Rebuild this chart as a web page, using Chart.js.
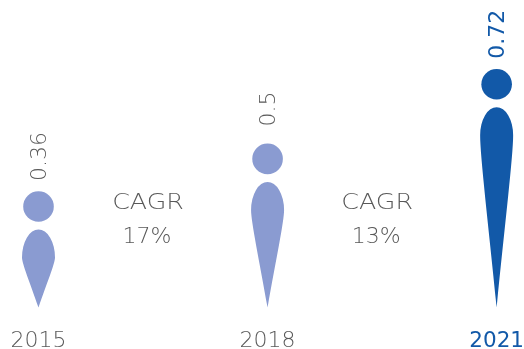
<!DOCTYPE html>
<html><head><meta charset="utf-8">
<style>html,body{margin:0;padding:0;background:#fff}#w{width:524px;height:349px;position:relative}</style>
<script src="https://cdn.jsdelivr.net/npm/chart.js@4"></script></head>
<body><div id="w"><canvas id="c"></canvas></div>
<script>
const years = ['2015','2018','2021'];
const values = [0.36,0.5,0.72];
const valueLabels = ['0.36','0.5','0.72'];
const cagrLabels = ['17%','13%'];
const colors = ['#8A9BD1','#8A9BD1','#1259A8'];
const textGrey = '#595959';
const FONT = '"DejaVu Sans"';

const figures = {
  id:'figures',
  beforeDatasetDraw(){ return false; },
  afterDatasetsDraw(chart){
    const ctx = chart.ctx, xs = chart.scales.x, tip = chart.scales.y.bottom;
    chart.getDatasetMeta(0).data.forEach((bar,i)=>{
      const x = bar.x, top = bar.y, hw = 16.5, dome = 28;
      const wide = top+dome, L = tip-wide;
      ctx.save();
      ctx.fillStyle = colors[i];
      ctx.beginPath();
      ctx.moveTo(x,tip);
      ctx.bezierCurveTo(x+hw*0.52,tip-L*0.5, x+hw,wide+L*0.12, x+hw,wide);
      ctx.ellipse(x,wide,hw,dome,0,0,Math.PI,true);
      ctx.bezierCurveTo(x-hw,wide+L*0.12, x-hw*0.52,tip-L*0.5, x,tip);
      ctx.closePath(); ctx.fill();
      ctx.beginPath(); ctx.arc(x,top-23,15.3,0,Math.PI*2); ctx.fill();
      ctx.translate(x+1.5,top-73);
      ctx.rotate(-Math.PI/2);
      ctx.fillStyle = i===2?colors[2]:textGrey;
      ctx.font = (i===2?'400':'200')+' 22px '+FONT;
      ctx.textAlign='center'; ctx.textBaseline='middle';
      ctx.fillText(valueLabels[i],0,0);
      ctx.restore();
    });
    ctx.save();
    ctx.fillStyle=textGrey; ctx.font='200 22px '+FONT;
    ctx.textAlign='center'; ctx.textBaseline='middle';
    cagrLabels.forEach((t,i)=>{
      const x = xs.getPixelForValue(i+0.5)-5;
      ctx.save();
      ctx.translate(x,203);
      ctx.scale(1.15,1);
      ctx.fillText('CAGR',0,0);
      ctx.restore();
      ctx.fillText(t,x-1,237);
    });
    ctx.restore();
  }
};

new Chart(document.getElementById('c'),{
  type:'bar',
  data:{labels:years,datasets:[{data:values,backgroundColor:colors,barThickness:33}]},
  plugins:[figures],
  options:{
    responsive:true,maintainAspectRatio:false,animation:false,
    layout:{padding:{left:38.5,right:27,top:0,bottom:0}},
    plugins:{legend:{display:false},tooltip:{enabled:false}},
    scales:{
      x:{offset:false,border:{display:false},
        grid:{drawOnChartArea:false,drawTicks:true,tickLength:26,tickColor:'rgba(0,0,0,0)'},
        ticks:{maxRotation:0,autoSkip:false,padding:0,
          color:c=>c.index===2?colors[2]:textGrey,
          font:{family:FONT,size:c=>c.index===2?21.5:22,lineHeight:0.7,weight:c=>c.index===2?'400':'200'}}},
      y:{display:false,min:0.13,max:1.0356}
    }
  }
});
</script></body></html>
